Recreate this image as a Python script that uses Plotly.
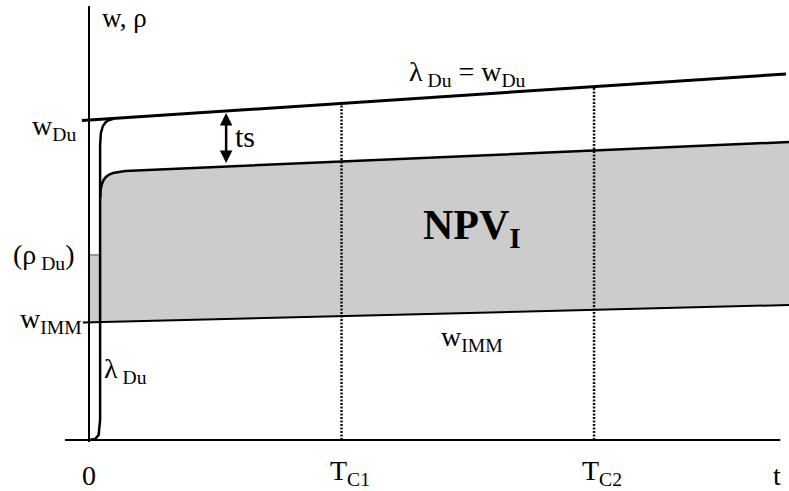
import numpy as np
import plotly.graph_objects as go

# ---- data (arbitrary diagram units: t in periods, w in wage units) ----
t_marks = [0, 1, 2]
t_labels = ["0", "T<sub>C1</sub>", "T<sub>C2</sub>"]

# lambda_Du = w_Du line (top)
wdu_t = [-0.028, 2.76]
wdu_w = [3.195, 3.66]

# lambda_Du path (rises from 0 to the w_Du line)
lam_t = [0.0, 0.024, 0.038, 0.044, 0.044, 0.047, 0.055, 0.067, 0.08, 0.095]
lam_w = [0.0, 0.01, 0.05, 0.2, 2.95, 3.07, 3.14, 3.18, 3.2, 3.21]

# wage path with turnover cost (lower curve, w_Du - ts)
low_t = [0.044, 0.046, 0.051, 0.058, 0.067, 0.08, 0.095, 0.143, 2.772]
low_w = [2.42, 2.5, 2.56, 2.6, 2.63, 2.655, 2.67, 2.69, 2.98]

# w_IMM line
imm_t = [-0.024, 2.772]
imm_w = [1.176, 1.35]

# rho_Du level
rho_du = 1.85

# axes extent
x_axis_t = [-0.095, 2.737]
y_axis_w = [-0.02, 4.34]

# ts arrow position
ts_t = 0.543

FONT = "Liberation Serif, Times New Roman, serif"
BLACK = "#000000"

fig = go.Figure()

# shaded NPV region
poly_t = list(low_t) + [imm_t[1]] + [0.0, 0.0, low_t[0], low_t[0]]
imm_end = imm_w[1]
imm_at0 = float(np.interp(0.0, imm_t, imm_w))
poly_w = list(low_w) + [imm_end] + [imm_at0, rho_du, rho_du, low_w[0]]
fig.add_trace(go.Scatter(x=poly_t, y=poly_w, mode="lines", fill="toself",
                         fillcolor="#cccccc", line=dict(width=0, color="#cccccc"),
                         hoverinfo="skip", showlegend=False))

# rho_Du gray tick
fig.add_trace(go.Scatter(x=[0.0, low_t[0]], y=[rho_du, rho_du], mode="lines",
                         line=dict(color="#999999", width=2), showlegend=False))

# dotted verticals at T_C1, T_C2
for tm in t_marks[1:]:
    top = float(np.interp(tm, wdu_t, wdu_w))
    fig.add_trace(go.Scatter(x=[tm, tm], y=[0, top], mode="lines",
                             line=dict(color="#111111", width=2.5, dash="2px,1.5px"),
                             showlegend=False))

# axes
fig.add_trace(go.Scatter(x=x_axis_t, y=[0, 0], mode="lines",
                         line=dict(color=BLACK, width=2), showlegend=False))
fig.add_trace(go.Scatter(x=[0, 0], y=y_axis_w, mode="lines",
                         line=dict(color=BLACK, width=2), showlegend=False))

# w_IMM line
fig.add_trace(go.Scatter(x=imm_t, y=imm_w, mode="lines",
                         line=dict(color=BLACK, width=2), showlegend=False))

# lower curve
fig.add_trace(go.Scatter(x=low_t, y=low_w, mode="lines",
                         line=dict(color=BLACK, width=2.5), showlegend=False))

# lambda_Du path
fig.add_trace(go.Scatter(x=lam_t, y=lam_w, mode="lines",
                         line=dict(color=BLACK, width=2.5), showlegend=False))

# w_Du line
fig.add_trace(go.Scatter(x=wdu_t, y=wdu_w, mode="lines",
                         line=dict(color=BLACK, width=3), showlegend=False))

# ts double arrow
ts_top = float(np.interp(ts_t, wdu_t, wdu_w))
ts_bot = float(np.interp(ts_t, low_t, low_w))
fig.add_annotation(x=ts_t, y=ts_top - 0.02, ax=ts_t, ay=ts_bot + 0.02,
                   xref="x", yref="y", axref="x", ayref="y",
                   showarrow=True, arrowhead=2, arrowside="end+start",
                   arrowsize=1, arrowwidth=2.5, arrowcolor=BLACK, text="")

def label(x, y, text, size=28, xanchor="center", yanchor="middle", bold=False, xshift=0):
    if bold:
        text = "<b>" + text + "</b>"
    fig.add_annotation(x=x, y=y, xref="x", yref="y", text=text, showarrow=False,
                       xanchor=xanchor, yanchor=yanchor, xshift=xshift,
                       font=dict(family=FONT, size=size, color=BLACK))

label(0.044, 4.22, "w, ρ", size=27, xanchor="left")
label(-0.044, 3.13, "w<sub>Du</sub>", xanchor="right")
label(-0.051, 1.84, "(ρ<sub> Du</sub>)", xanchor="right")
label(-0.02, 1.2, "w<sub>IMM</sub>", xanchor="right")
label(0.052, 0.7, "λ<sub> Du</sub>", xanchor="left")
label(1.50, 3.67, "λ<sub> Du</sub> = w<sub>Du</sub>")
label(0.572, 3.04, "ts", size=30, xanchor="left")
label(1.517, 2.12, "NPV<sub>I</sub>", size=42, bold=True)
label(1.517, 1.02, "w<sub>IMM</sub>")
label(t_marks[0], -0.35, t_labels[0])
for tm, tl in zip(t_marks[1:], t_labels[1:]):
    label(tm, -0.32, tl, xanchor="left", xshift=-14)
label(2.725, -0.35, "t")

fig.update_layout(
    width=789, height=491,
    margin=dict(l=0, r=0, t=0, b=0),
    paper_bgcolor="white", plot_bgcolor="white",
    xaxis=dict(range=[-0.3525, 2.772], visible=False, fixedrange=True),
    yaxis=dict(range=[-0.51, 4.40], visible=False, fixedrange=True),
    showlegend=False,
)

fig.write_html("out.html",
               config={"displayModeBar": False},
               post_script="document.body.style.margin='0';document.body.style.overflow='hidden';")
